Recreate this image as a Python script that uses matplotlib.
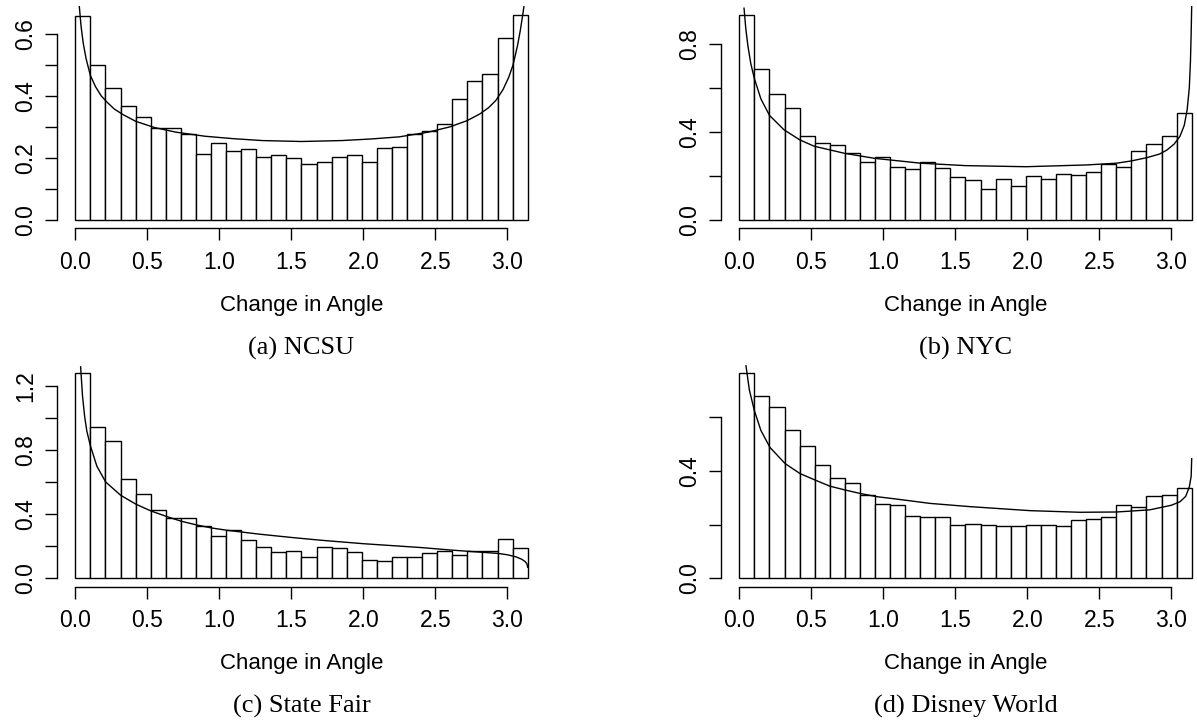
import numpy as np
import matplotlib
matplotlib.use("Agg")
import matplotlib.pyplot as plt

# ---------------- data ----------------
n_bins = 30
bin_lo, bin_hi = 0.0, np.pi

ncsu_density = [0.656, 0.500, 0.425, 0.366, 0.333, 0.296, 0.298, 0.278, 0.212, 0.249,
                0.222, 0.230, 0.204, 0.210, 0.201, 0.181, 0.186, 0.204, 0.208, 0.186,
                0.233, 0.235, 0.278, 0.287, 0.308, 0.391, 0.447, 0.472, 0.586, 0.662]
nyc_density = [0.933, 0.688, 0.574, 0.509, 0.382, 0.352, 0.339, 0.305, 0.262, 0.288,
               0.241, 0.230, 0.264, 0.236, 0.195, 0.182, 0.139, 0.188, 0.155, 0.198,
               0.188, 0.208, 0.206, 0.220, 0.256, 0.239, 0.315, 0.345, 0.383, 0.485]
fair_density = [1.281, 0.945, 0.855, 0.623, 0.527, 0.426, 0.378, 0.380, 0.330, 0.262,
                0.303, 0.243, 0.199, 0.164, 0.174, 0.133, 0.197, 0.191, 0.168, 0.118,
                0.110, 0.135, 0.135, 0.158, 0.172, 0.147, 0.171, 0.171, 0.247, 0.192]
disney_density = [0.763, 0.677, 0.636, 0.553, 0.494, 0.422, 0.372, 0.353, 0.309, 0.277,
                  0.272, 0.231, 0.227, 0.230, 0.197, 0.201, 0.198, 0.195, 0.195, 0.200,
                  0.200, 0.196, 0.217, 0.221, 0.227, 0.272, 0.264, 0.306, 0.312, 0.335]

# fitted density curves
ncsu_curve_x = [0.028, 0.04, 0.055, 0.075, 0.104, 0.14, 0.18, 0.22, 0.27, 0.33, 0.42, 0.55,
                0.70, 0.90, 1.10, 1.30, 1.57, 1.85, 2.05, 2.25, 2.45, 2.60, 2.72, 2.81,
                2.87, 2.92, 2.97, 3.01, 3.04, 3.07, 3.09, 3.11, 3.116]
ncsu_curve_y = [0.688, 0.625, 0.570, 0.520, 0.467, 0.430, 0.400, 0.380, 0.358, 0.340, 0.318, 0.298,
                0.283, 0.270, 0.262, 0.256, 0.253, 0.256, 0.261, 0.268, 0.283, 0.300, 0.320, 0.342,
                0.362, 0.385, 0.420, 0.460, 0.500, 0.560, 0.610, 0.670, 0.690]

nyc_curve_x = [0.033, 0.045, 0.06, 0.08, 0.104, 0.15, 0.21, 0.31, 0.42, 0.52, 0.73, 0.94,
               1.26, 1.57, 1.99, 2.41, 2.62, 2.72, 2.83, 2.92, 2.97, 3.02, 3.06, 3.09,
               3.11, 3.125, 3.133, 3.138, 3.1416]
nyc_curve_y = [0.962, 0.870, 0.790, 0.710, 0.644, 0.550, 0.475, 0.410, 0.364, 0.335, 0.303, 0.280,
               0.258, 0.247, 0.242, 0.250, 0.258, 0.268, 0.283, 0.300, 0.318, 0.345, 0.380, 0.430,
               0.500, 0.600, 0.720, 0.850, 0.970]

fair_curve_x = [0.037, 0.05, 0.065, 0.08, 0.104, 0.15, 0.211, 0.315, 0.422, 0.526, 0.63, 0.736,
                0.843, 0.947, 1.051, 1.283, 1.50, 1.70, 2.00, 2.20, 2.40, 2.60, 2.80, 2.94,
                3.00, 3.06, 3.10, 3.125, 3.137, 3.1416]
fair_curve_y = [1.320, 1.140, 1.010, 0.920, 0.830, 0.700, 0.602, 0.519, 0.463, 0.421, 0.388, 0.357,
                0.334, 0.315, 0.301, 0.276, 0.256, 0.239, 0.217, 0.205, 0.193, 0.178, 0.165, 0.156,
                0.148, 0.135, 0.120, 0.105, 0.090, 0.070]

disney_curve_x = [0.0465, 0.07, 0.104, 0.15, 0.213, 0.318, 0.421, 0.525, 0.629, 0.733, 0.838,
                  0.954, 1.093, 1.324, 1.60, 2.019, 2.366, 2.62, 2.85, 3.00, 3.06, 3.10,
                  3.125, 3.138, 3.1416]
disney_curve_y = [0.790, 0.700, 0.625, 0.550, 0.487, 0.427, 0.390, 0.366, 0.343, 0.329, 0.316,
                  0.304, 0.295, 0.279, 0.267, 0.252, 0.246, 0.247, 0.255, 0.272, 0.285, 0.305,
                  0.340, 0.380, 0.445]

captions = ["(a) NCSU", "(b) NYC", "(c) State Fair", "(d) Disney World"]
x_label = "Change in Angle"
x_ticks = [0.0, 0.5, 1.0, 1.5, 2.0, 2.5, 3.0]
y_ticks_list = [[0.0, 0.1, 0.2, 0.3, 0.4, 0.5, 0.6],
                [0.0, 0.2, 0.4, 0.6, 0.8],
                [0.0, 0.2, 0.4, 0.6, 0.8, 1.0, 1.2],
                [0.0, 0.2, 0.4, 0.6]]
y_labels_list = [["0.0", "", "0.2", "", "0.4", "", "0.6"],
                 ["0.0", "", "0.4", "", "0.8"],
                 ["0.0", "", "0.4", "", "0.8", "", "1.2"],
                 ["0.0", "", "0.4", ""]]

densities = [ncsu_density, nyc_density, fair_density, disney_density]
curves = [(ncsu_curve_x, ncsu_curve_y), (nyc_curve_x, nyc_curve_y),
          (fair_curve_x, fair_curve_y), (disney_curve_x, disney_curve_y)]

# ---------------- layout ----------------
W, H = 1197, 723
fig = plt.figure(figsize=(W / 100, H / 100), dpi=100)
sans = ["Liberation Sans", "DejaVu Sans"]
serif = ["Liberation Serif", "DejaVu Serif"]

ppu = 144.0
ax_w = 1.08 * np.pi * ppu
ax_h = 221.8
lefts = [57.2, 721.2, 57.2, 721.2]
bottoms = [228.2, 228.2, 586.7, 586.7]   # pixel from top
edges = np.linspace(bin_lo, bin_hi, n_bins + 1)
lw = 1.0

for i in range(4):
    L, B = lefts[i], bottoms[i]
    ax = fig.add_axes([L / W, (H - B) / H, ax_w / W, ax_h / H])
    d = densities[i]
    M = max(d)
    ax.bar(edges[:-1], d, width=np.diff(edges), align="edge",
           facecolor="white", edgecolor="black", linewidth=lw)
    cx, cy = curves[i]
    ax.plot(cx, cy, color="black", linewidth=lw)
    ax.set_xlim(-0.04 * np.pi, 1.04 * np.pi)
    ax.set_ylim(-0.04 * M, 1.04 * M)
    for s in ["top", "right"]:
        ax.spines[s].set_visible(False)
    yt = y_ticks_list[i]
    ax.spines["left"].set_bounds(yt[0], yt[-1])
    ax.spines["bottom"].set_bounds(x_ticks[0], x_ticks[-1])
    for s in ["left", "bottom"]:
        ax.spines[s].set_linewidth(lw)
    ax.set_xticks(x_ticks)
    ax.set_xticklabels([f"{t:.1f}" for t in x_ticks], fontfamily=sans, fontsize=16.5)
    ax.set_yticks(yt)
    ax.set_yticklabels(y_labels_list[i], fontfamily=sans, fontsize=16.5,
                       rotation=90, va="center")
    ax.tick_params(axis="both", direction="out", length=8.4, width=lw)
    ax.tick_params(axis="x", pad=8)
    ax.tick_params(axis="y", pad=6)
    ax.patch.set_visible(False)

    cxp = L + ax_w / 2
    fig.text(cxp / W, 1 - (B + 77) / H, x_label, fontfamily=sans, fontsize=16,
             ha="center", va="center")
    fig.text(cxp / W, 1 - (B + 120) / H, captions[i], fontfamily=serif, fontsize=19,
             ha="center", va="center")

fig.savefig("out.png", dpi=100)
